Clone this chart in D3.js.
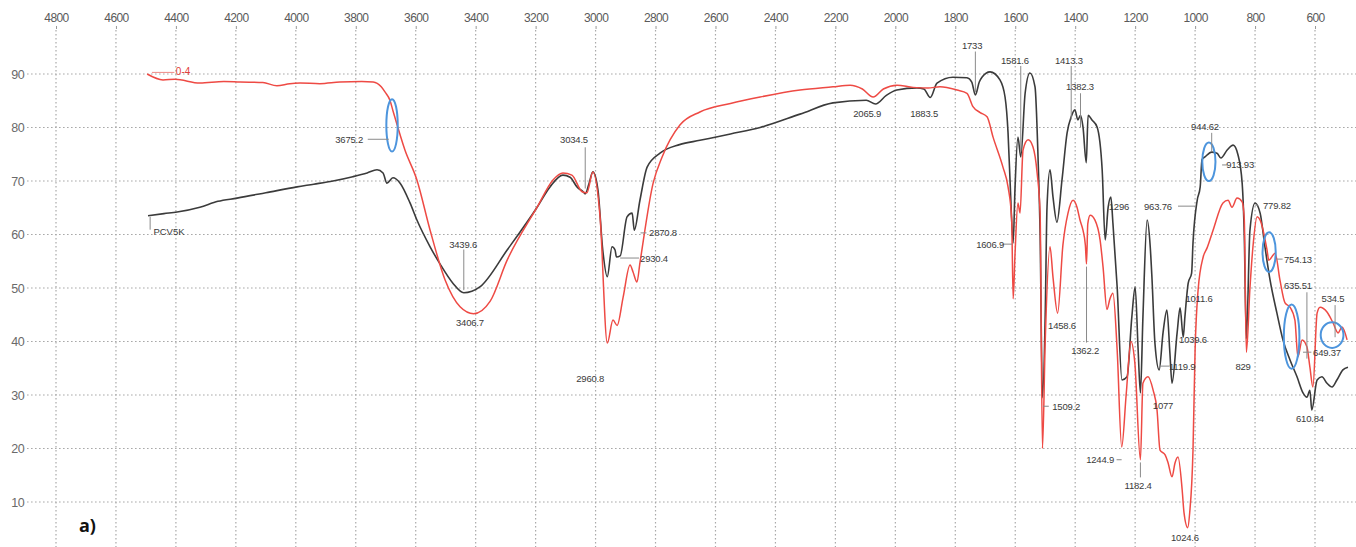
<!DOCTYPE html>
<html>
<head>
<meta charset="utf-8">
<script src="https://cdn.jsdelivr.net/npm/d3@7"></script>
<style>
  html, body { margin: 0; padding: 0; background: #fff; }
  svg { display: block; }
  .tick text { font-family: "Liberation Sans Narrow", "Arial Narrow", "Liberation Sans", Arial, sans-serif; }
</style>
</head>
<body>
<svg id="chart" width="1356" height="547"></svg>
<script>
// Wavenumber ticks (cm-1) along the top and transmittance ticks (%) at the left
const wavenumberTicks = [4800, 4600, 4400, 4200, 4000, 3800, 3600, 3400, 3200, 3000, 2800,
                         2600, 2400, 2200, 2000, 1800, 1600, 1400, 1200, 1000, 800, 600];
const transmittanceTicks = [90, 80, 70, 60, 50, 40, 30, 20, 10];

// Sample 0-4 spectrum: [wavenumber, %T]
const redSeries = [
  [4496,90.0],[4443,88.9],[4403,89.0],[4320,88.3],[4240,88.6],[4186,88.5],[4110,88.4],[4063,87.8],
  [4020,88.2],[3986,88.3],[3920,88.2],[3853,88.5],[3780,88.6],[3742,88.5],[3715,87.6],[3702,86.6],
  [3686,85.1],[3675.2,83.0],[3636,75.8],[3596,70.2],[3552,60.8],[3502,51.5],[3452,46.5],[3406.7,45.2],
  [3352,47.5],[3295,55.2],[3195,65.1],[3142,70.2],[3109,71.5],[3079,71.1],[3045,68.0],[3029,67.8],
  [3009,71.7],[2985,63.3],[2960.8,39.7],[2942,44.0],[2928,43.0],[2908,48.3],[2885,54.3],[2875,53.0],
  [2862,51.1],[2852,54.7],[2808,69.6],[2778,74.5],[2718,80.5],[2652,82.9],[2550,84.5],[2451,85.7],
  [2318,87.0],[2208,87.6],[2151,87.9],[2110,87.2],[2074,85.7],[2040,87.2],[1994,87.9],[1941,87.5],
  [1891,87.4],[1851,87.6],[1794,87.0],[1761,86.4],[1741,83.9],[1717,82.8],[1694,82.0],[1674,78.2],
  [1641,72.6],[1624,68.9],[1612,63.0],[1606.9,48.0],[1601,56.0],[1591,65.9],[1584,64.0],[1574,75.8],
  [1557,77.7],[1541,76.4],[1527,71.5],[1517,64.0],[1509.2,20.0],[1500,40.0],[1484,57.7],[1474,52.0],
  [1458.6,45.3],[1441,58.0],[1424,64.0],[1407,66.4],[1394,65.1],[1384,62.7],[1374,60.8],[1366,58.0],
  [1362.2,54.5],[1358,62.0],[1350,63.6],[1334,62.7],[1317,59.0],[1307,53.9],[1294,46.0],[1284,48.0],
  [1274,49.0],[1260,38.4],[1244.9,20.3],[1230,30.0],[1214,40.0],[1201,36.0],[1182.4,17.9],[1174,32.2],
  [1157,33.4],[1140,30.9],[1127,27.2],[1117,19.7],[1100,18.8],[1090,17.3],[1077,14.7],[1067,17.3],
  [1057,18.4],[1043,12.2],[1037,8.0],[1024.6,5.2],[1018,8.0],[1007,19.7],[1000,38.4],[990,49.6],
  [973,55.8],[960,57.5],[940,60.8],[907,65.9],[890,66.4],[877,65.1],[860,66.8],[843,66.1],
  [836,63.0],[829,38.0],[817,50.0],[807,57.7],[793,63.3],[783,62.7],[760,57.1],[754.1,55.2],
  [733,56.5],[717,51.5],[700,47.2],[683,46.4],[667,44.0],[657,37.1],[643,40.3],[627,39.0],
  [617,35.2],[607,31.5],[593,45.3],[583,46.4],[560,45.5],[540,43.5],[523,41.6],[510,42.7],[493,40.3]
];

// Reference PCV5K spectrum: [wavenumber, %T]
const blackSeries = [
  [4493,63.5],[4440,63.9],[4396,64.2],[4320,65.1],[4260,66.2],[4196,66.8],[4100,67.8],[3996,68.9],
  [3940,69.4],[3876,70.0],[3810,70.8],[3762,71.5],[3729,72.1],[3709,71.5],[3696,69.6],[3676,70.6],
  [3652,69.6],[3619,65.9],[3596,62.7],[3552,57.7],[3519,54.5],[3476,50.9],[3439.6,49.1],[3386,50.2],
  [3295,57.1],[3195,65.1],[3152,68.9],[3109,71.1],[3085,70.7],[3062,68.9],[3042,68.0],[3034.5,67.6],
  [3022,69.5],[3009,71.7],[2992,68.3],[2976,57.1],[2961,52.1],[2945,57.7],[2935,57.1],[2930.4,55.8],
  [2918,56.0],[2895,63.3],[2878,64.0],[2870.8,60.8],[2852,66.4],[2828,72.6],[2785,75.2],[2720,76.8],
  [2652,77.6],[2550,78.8],[2451,80.0],[2318,82.5],[2208,84.6],[2097,85.1],[2065.9,84.4],[2030,86.0],
  [1995,87.0],[1928,87.4],[1905,87.2],[1883.5,85.6],[1861,88.3],[1808,89.4],[1761,89.3],[1745,88.5],
  [1733,86.1],[1720,88.5],[1711,89.4],[1684,90.4],[1651,88.9],[1634,85.7],[1624,79.0],[1617,69.6],
  [1606.9,58.4],[1601,68.3],[1591,78.2],[1581.6,74.5],[1567,86.4],[1551,90.2],[1534,87.6],[1524,74.5],
  [1517,60.0],[1509.2,29.5],[1500,45.0],[1494,65.1],[1484,72.1],[1474,67.0],[1461,62.3],[1444,70.2],
  [1427,79.0],[1413.3,82.0],[1401,83.3],[1391,81.4],[1382.3,82.3],[1374,80.1],[1363,73.4],[1357,82.3],
  [1344,81.4],[1327,80.1],[1310,72.1],[1300,59.0],[1290,65.1],[1281,67.0],[1274,62.0],[1260,50.2],
  [1244,32.8],[1227,33.4],[1211,44.6],[1200,50.2],[1190,38.4],[1182.4,30.4],[1174,44.6],[1160,62.7],
  [1150,58.0],[1144,52.0],[1134,39.7],[1119.9,34.7],[1107,41.6],[1094,45.9],[1084,37.8],[1077,32.2],
  [1060,41.6],[1050,46.3],[1039.6,40.8],[1034,44.6],[1023,50.9],[1011.6,52.8],[1007,58.4],[993,66.4],
  [983,68.9],[977,74.0],[967,74.5],[944.6,75.4],[927,75.2],[913.9,74.3],[893,75.8],[873,76.7],
  [857,74.9],[843,69.6],[836,60.0],[829,40.5],[817,60.8],[800,65.9],[783,64.0],[767,57.7],
  [750,51.5],[727,45.3],[707,40.3],[683,36.5],[660,33.4],[640,30.4],[627,29.6],[617,30.9],
  [610.8,27.2],[593,32.8],[577,33.4],[560,32.2],[543,31.5],[527,32.8],[507,34.7],[490,35.2]
];

// Peak labels: text, label centre [wavenumber, %T], optional leader [wn1, T1, wn2, T2]
const peakLabels = [
  ["3675.2", 3822, 77.8, [3760, 77.8, 3690, 77.8]],
  ["3439.6", 3442, 58.2, [3439.6, 57.2, 3439.6, 49.6]],
  ["3406.7", 3419, 43.6, null],
  ["3034.5", 3072, 77.7, [3034.5, 76.3, 3034.5, 68.6]],
  ["2960.8", 3018, 33.0, null],
  ["2870.8", 2775, 60.3, [2850, 60.3, 2830, 60.3]],
  ["2930.4", 2805, 55.6, [2918, 55.6, 2855, 55.6]],
  ["2065.9", 2094, 82.7, null],
  ["1883.5", 1904, 82.7, null],
  ["1733", 1744, 95.4, [1733, 94.2, 1733, 86.6]],
  ["1581.6", 1601, 92.6, [1581.6, 91.5, 1581.6, 75.5]],
  ["1413.3", 1421, 92.6, [1413.3, 91.5, 1413.3, 81.5]],
  ["1382.3", 1384, 87.6, [1382.3, 86.4, 1382.3, 80.0]],
  ["1606.9", 1684, 58.2, [1645, 58.2, 1610, 58.2]],
  ["1458.6", 1444, 42.9, null],
  ["1509.2", 1430, 27.9, [1507, 27.9, 1488, 27.9]],
  ["1362.2", 1367, 38.4, [1362.2, 39.8, 1362.2, 54.0]],
  ["1296", 1254, 65.3, null],
  ["963.76", 1124, 65.3, [1057, 65.3, 997, 65.3]],
  ["944.62", 967, 80.1, [944.6, 79.0, 944.6, 75.6]],
  ["913.93", 850, 73.0, [910, 73.0, 893, 73.0]],
  ["779.82", 727, 65.5, [800, 65.5, 790, 65.5]],
  ["754.13", 657, 55.4, [727, 55.4, 708, 55.4]],
  ["635.51", 657, 50.4, [627, 49.2, 627, 36.8]],
  ["534.5", 540, 48.1, [533, 46.8, 533, 40.8]],
  ["649.37", 560, 38.0, [640, 38.0, 612, 38.0]],
  ["610.84", 617, 25.7, null],
  ["1011.6", 987, 48.1, null],
  ["1039.6", 1007, 40.3, null],
  ["1119.9", 1043, 35.4, [1117, 35.4, 1085, 35.4]],
  ["1077", 1107, 28.1, null],
  ["1244.9", 1317, 17.9, [1262, 17.9, 1245, 17.9]],
  ["1182.4", 1190, 13.0, [1182.4, 17.4, 1182.4, 14.6]],
  ["1024.6", 1034, 3.3, null],
  ["829", 840, 35.4, null]
];

// Highlighted bands: centre [wavenumber, %T], radii in wavenumber and %T units
const highlightBands = [
  [3679, 80.4, 19, 4.9],
  [954, 73.6, 22, 3.6],
  [753, 56.7, 22, 3.7],
  [678, 40.9, 26, 6.0],
  [543, 41.2, 38, 2.4]
];

const width = 1356, height = 547;
const svg = d3.select("#chart");

const x = d3.scaleLinear().domain([4800, 600]).range([56, 1315]);
const y = d3.scaleLinear().domain([90, 10]).range([74, 502]);

const gridColor = "#a9a9a9";

// Dotted grid
const grid = svg.append("g");
grid.selectAll("line.v").data(wavenumberTicks).join("line")
  .attr("x1", d => x(d)).attr("x2", d => x(d))
  .attr("y1", 30).attr("y2", height)
  .attr("stroke", gridColor).attr("stroke-width", 1.2)
  .attr("stroke-dasharray", "1.6,2.4");
grid.selectAll("line.h").data(transmittanceTicks).join("line")
  .attr("x1", 27).attr("x2", width)
  .attr("y1", d => y(d)).attr("y2", d => y(d))
  .attr("stroke", gridColor).attr("stroke-width", 1.2)
  .attr("stroke-dasharray", "1.6,2.4");

// Top wavenumber axis
const topAxis = svg.append("g")
  .attr("transform", "translate(0,29)")
  .call(d3.axisTop(x).tickValues(wavenumberTicks).tickSize(3).tickPadding(4).tickFormat(d3.format("d")));
topAxis.select(".domain").remove();
topAxis.selectAll(".tick line").attr("stroke", "#999");
topAxis.selectAll(".tick text").attr("fill", "#5a5a5a").attr("font-size", 12).attr("letter-spacing", -0.6);

// Left transmittance axis
const leftAxis = svg.append("g")
  .attr("transform", "translate(25,0)")
  .call(d3.axisLeft(y).tickValues(transmittanceTicks).tickSize(0).tickPadding(1));
leftAxis.select(".domain").remove();
leftAxis.selectAll(".tick text").attr("fill", "#6a6a6a").attr("font-size", 12.5).attr("letter-spacing", -0.6);

// Spectra
const line = d3.line()
  .x(d => x(d[0])).y(d => y(d[1]))
  .curve(d3.curveMonotoneX);

svg.append("path").datum(blackSeries)
  .attr("d", line).attr("fill", "none")
  .attr("stroke", "#3b3b3b").attr("stroke-width", 1.6).attr("stroke-linejoin", "round");

svg.append("path").datum(redSeries)
  .attr("d", line).attr("fill", "none")
  .attr("stroke", "#ee4a44").attr("stroke-width", 1.5).attr("stroke-linejoin", "round");

// Highlight ellipses
svg.append("g").selectAll("ellipse").data(highlightBands).join("ellipse")
  .attr("cx", d => x(d[0])).attr("cy", d => y(d[1]))
  .attr("rx", d => Math.abs(x(d[0] + d[2]) - x(d[0])))
  .attr("ry", d => Math.abs(y(d[1] + d[3]) - y(d[1])))
  .attr("fill", "none").attr("stroke", "#4d95dd").attr("stroke-width", 2);

// Peak labels and leaders
const ann = svg.append("g");
ann.selectAll("line").data(peakLabels.filter(d => d[3])).join("line")
  .attr("x1", d => x(d[3][0])).attr("y1", d => y(d[3][1]))
  .attr("x2", d => x(d[3][2])).attr("y2", d => y(d[3][3]))
  .attr("stroke", "#8a8a8a").attr("stroke-width", 1);
ann.selectAll("text").data(peakLabels).join("text")
  .attr("x", d => x(d[1])).attr("y", d => y(d[2]))
  .attr("text-anchor", "middle").attr("dominant-baseline", "central")
  .attr("font-family", "'Liberation Sans', Arial, sans-serif")
  .attr("font-size", 9.5).attr("letter-spacing", -0.2)
  .attr("fill", "#3a3a3a")
  .text(d => d[0]);

// Series names
svg.append("line")
  .attr("x1", x(4486)).attr("y1", y(63.3)).attr("x2", x(4486)).attr("y2", y(60.9))
  .attr("stroke", "#8a8a8a");
svg.append("text")
  .attr("x", x(4423)).attr("y", y(60.6))
  .attr("text-anchor", "middle").attr("dominant-baseline", "central")
  .attr("font-family", "'Liberation Sans', Arial, sans-serif")
  .attr("font-size", 9.5).attr("fill", "#3a3a3a").text("PCV5K");
svg.append("line")
  .attr("x1", x(4480)).attr("y1", y(90.3)).attr("x2", x(4405)).attr("y2", y(90.3))
  .attr("stroke", "#ef8a86").attr("stroke-width", 1);
svg.append("text")
  .attr("x", x(4376)).attr("y", y(90.4))
  .attr("text-anchor", "middle").attr("dominant-baseline", "central")
  .attr("font-family", "'Liberation Sans', Arial, sans-serif")
  .attr("font-size", 10).attr("fill", "#e2403a").text("0-4");

// Panel tag
svg.append("text")
  .attr("x", 79).attr("y", 532)
  .attr("font-family", "'Open Sans', 'Liberation Sans', Arial, sans-serif")
  .attr("font-weight", "bold").attr("font-size", 18).attr("fill", "#111")
  .text("a)");
</script>
</body>
</html>
